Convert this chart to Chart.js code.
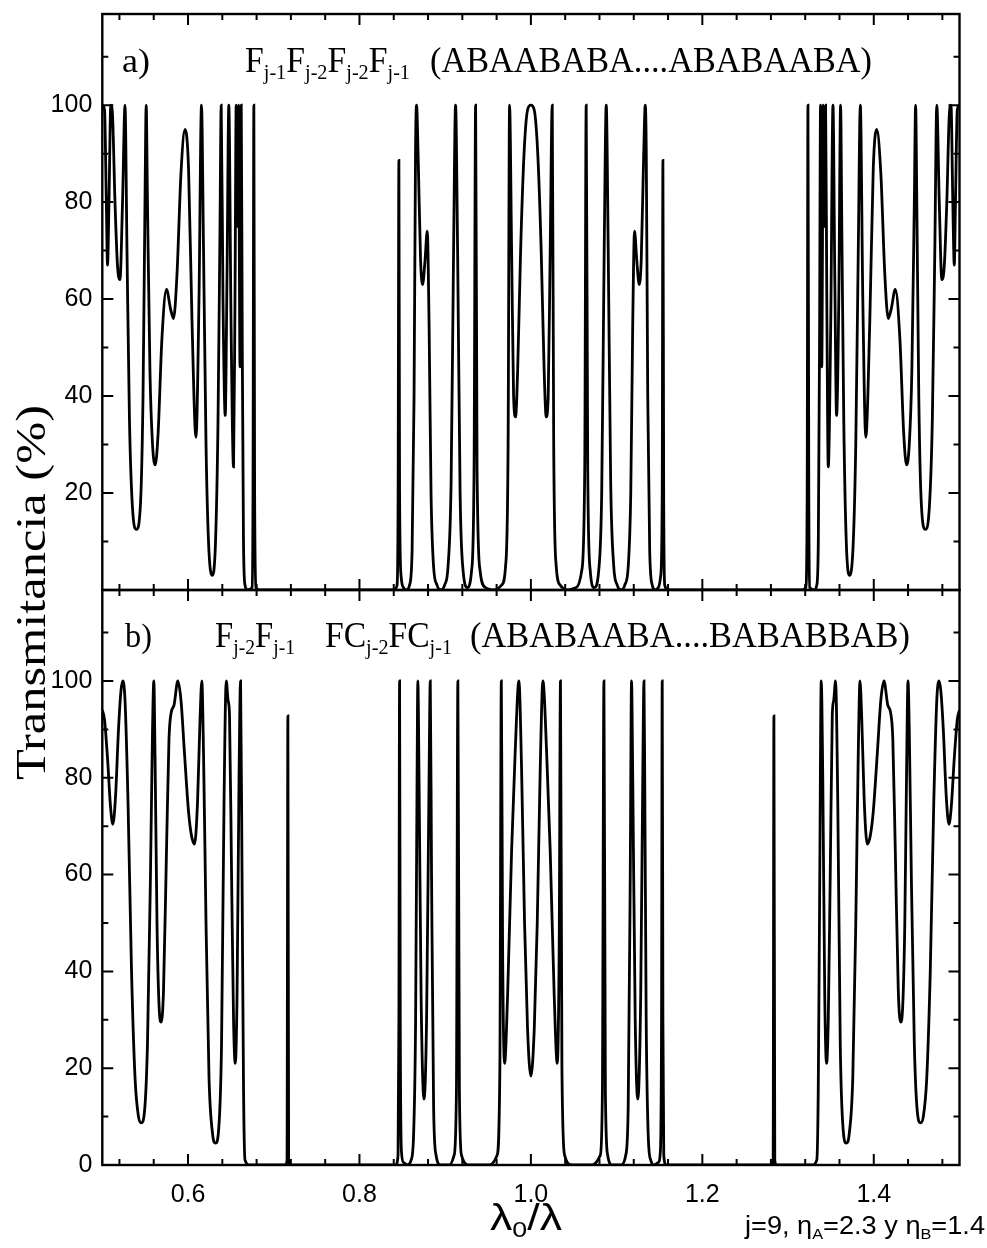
<!DOCTYPE html>
<html>
<head>
<meta charset="utf-8">
<script src="https://cdn.jsdelivr.net/npm/chart.js@4.4.1/dist/chart.umd.min.js"></script>
<style>
  html, body { margin: 0; padding: 0; background: #fff; }
  #wrap { position: relative; width: 987px; height: 1248px; overflow: hidden; }
  canvas { position: absolute; left: 0; }
  #chartA { top: 0; }
  #chartB { top: 586px; }
  .txt { position: absolute; color: #000; white-space: nowrap; line-height: 1; transform-origin: 0 0; }
  .serif { font-family: "Liberation Serif", "Times New Roman", serif; }
  .sans { font-family: "Liberation Sans", Arial, sans-serif; }
  .txt sub { font-size: 60%; vertical-align: -0.32em; line-height: 0; }
</style>
</head>
<body>
<div id="wrap">
  <canvas id="chartA" width="987" height="594"></canvas>
  <canvas id="chartB" width="987" height="662"></canvas>

  <div class="txt serif" id="labA" style="left:122px; top:44px; font-size:34px;">a)</div>
  <div class="txt serif" id="titA1" style="left:245px; top:42px; font-size:36px;">F<sub>j-1</sub>F<sub>j-2</sub>F<sub>j-2</sub>F<sub>j-1</sub></div>
  <div class="txt serif" id="titA2" style="left:430px; top:42px; font-size:36px;">(ABAABABA....ABABAABA)</div>

  <div class="txt serif" id="labB" style="left:125px; top:619px; font-size:34px;">b)</div>
  <div class="txt serif" id="titB1" style="left:215px; top:617px; font-size:36px;">F<sub>j-2</sub>F<sub>j-1</sub></div>
  <div class="txt serif" id="titB2" style="left:325px; top:617px; font-size:36px;">FC<sub>j-2</sub>FC<sub>j-1</sub></div>
  <div class="txt serif" id="titB3" style="left:470px; top:617px; font-size:36px;">(ABABAABA....BABABBAB)</div>

  <div class="txt serif" id="yTitle" style="left:10px; top:780px; font-size:42px;">Transmitancia (%)</div>
  <div class="txt sans" id="xTitle" style="left:490px; top:1199px; font-size:37px;">λ<sub>0</sub>/λ</div>
  <div class="txt sans" id="note" style="left:745px; top:1213px; font-size:25px;">j=9, η<sub>A</sub>=2.3 y η<sub>B</sub>=1.4</div>
</div>

<script>
// Axis ticks
const xTicks = [0.6, 0.8, 1.0, 1.2, 1.4];
const xMinor = [0.52, 0.56, 0.64, 0.68, 0.72, 0.76, 0.84, 0.88, 0.92, 0.96,
                1.04, 1.08, 1.12, 1.16, 1.24, 1.28, 1.32, 1.36, 1.44, 1.48];
const yTicksA = [20, 40, 60, 80, 100];
const yTicksB = [0, 20, 40, 60, 80, 100];
const yMinor = [10, 30, 50, 70, 90, 110];

// a) Fj-1 Fj-2 Fj-2 Fj-1 - lambda0/lambda and transmittance (%)
const lambdaA = [
  0.5000, 0.5026, 0.5047, 0.5061, 0.5078, 0.5099, 0.5119, 0.5148, 0.5177, 0.5206,
  0.5236, 0.5265, 0.5288, 0.5317, 0.5352, 0.5399, 0.5446, 0.5475, 0.5498, 0.5512,
  0.5527, 0.5556, 0.5586, 0.5617, 0.5650, 0.5696, 0.5749, 0.5796, 0.5831, 0.5871,
  0.5918, 0.5965, 0.6006, 0.6047, 0.6093, 0.6128, 0.6157, 0.6181, 0.6210, 0.6239,
  0.6280, 0.6321, 0.6350, 0.6373, 0.6387, 0.6408, 0.6434, 0.6455, 0.6476, 0.6502,
  0.6531, 0.6548, 0.6562, 0.6575, 0.6589, 0.6607, 0.6621, 0.6633, 0.6647, 0.6665,
  0.6694, 0.6747, 0.6758, 0.6768, 0.6777, 0.6793, 0.6834,
  0.8398, 0.8439, 0.8451, 0.8460, 0.8468, 0.8485, 0.8514, 0.8549, 0.8584, 0.8614,
  0.8637, 0.8654, 0.8666, 0.8684, 0.8713, 0.8736, 0.8765, 0.8791, 0.8812, 0.8835,
  0.8864, 0.8905, 0.8946, 0.8993, 0.9034, 0.9069, 0.9098, 0.9121, 0.9145, 0.9174,
  0.9209, 0.9261, 0.9308, 0.9337, 0.9355, 0.9372, 0.9407, 0.9471, 0.9576, 0.9658,
  0.9705, 0.9734, 0.9751, 0.9775, 0.9798, 0.9821, 0.9845, 0.9880, 0.9920, 0.9961,
  1.0000,
  1.0039, 1.0080, 1.0120, 1.0155, 1.0179, 1.0202, 1.0225, 1.0249, 1.0266, 1.0295,
  1.0342, 1.0424, 1.0529, 1.0593, 1.0628, 1.0645, 1.0663, 1.0692, 1.0739, 1.0791,
  1.0826, 1.0855, 1.0879, 1.0902, 1.0931, 1.0966, 1.1007, 1.1054, 1.1095, 1.1136,
  1.1165, 1.1188, 1.1209, 1.1235, 1.1264, 1.1287, 1.1316, 1.1334, 1.1346, 1.1363,
  1.1386, 1.1416, 1.1451, 1.1486, 1.1515, 1.1532, 1.1540, 1.1549, 1.1561, 1.1602,
  1.3166, 1.3207, 1.3223, 1.3232, 1.3242, 1.3253, 1.3306, 1.3335, 1.3353, 1.3367,
  1.3379, 1.3393, 1.3411, 1.3425, 1.3438, 1.3452, 1.3469, 1.3498, 1.3524, 1.3545,
  1.3566, 1.3592, 1.3613, 1.3627, 1.3650, 1.3679, 1.3720, 1.3761, 1.3790, 1.3819,
  1.3843, 1.3872, 1.3907, 1.3953, 1.3994, 1.4035, 1.4082, 1.4129, 1.4169, 1.4204,
  1.4251, 1.4304, 1.4350, 1.4383, 1.4414, 1.4444, 1.4473, 1.4488, 1.4502, 1.4525,
  1.4554, 1.4601, 1.4648, 1.4683, 1.4712, 1.4735, 1.4764, 1.4794, 1.4823, 1.4852,
  1.4881, 1.4901, 1.4922, 1.4939, 1.4953, 1.4974, 1.5000
];
const transA = [
  100, 99, 80, 67, 80, 100, 98, 80, 67, 64,
  80, 100, 70, 35, 17, 12.5, 18, 40, 80, 100,
  80, 45, 30, 25.8, 32, 52, 62, 58, 56, 65,
  86, 95, 87, 55, 31.5, 60, 100, 70, 30, 10,
  3, 10, 35, 75, 100, 60, 36, 65, 100, 55,
  25.4, 60, 100, 75, 100, 46, 100, 50, 10, 1,
  0, 0.5, 20, 100, 20, 0.5, 0,
  0, 1, 20, 88.6, 20, 3, 0.5, 0, 1, 8,
  40, 90, 100, 90, 68, 63, 68, 74, 55, 20,
  5, 1, 0, 1, 5, 22, 70, 100, 70, 20,
  4, 0.5, 4, 25, 100, 25, 4, 0.5, 0, 1,
  5, 30, 100, 70, 40, 35.7, 45, 70, 90, 99,
  100,
  99, 90, 70, 45, 35.7, 40, 70, 100, 30, 5,
  1, 0, 0.5, 4, 25, 100, 25, 4, 0.5, 4,
  20, 70, 100, 70, 22, 5, 1, 0, 1, 5,
  20, 55, 74, 68, 63, 68, 90, 100, 90, 40,
  8, 1, 0, 0.5, 3, 20, 88.6, 20, 1, 0,
  0, 0.5, 20, 100, 20, 0.5, 0, 1, 10, 50,
  100, 46, 100, 75, 100, 60, 25.4, 55, 100, 65,
  36, 60, 100, 75, 35, 10, 3, 10, 30, 70,
  100, 60, 31.5, 55, 87, 95, 86, 65, 56, 58,
  62, 52, 32, 25.8, 30, 45, 80, 100, 80, 40,
  18, 12.5, 17, 35, 70, 100, 80, 64, 67, 80,
  98, 100, 80, 67, 80, 99, 100
];

// b) Fj-2 Fj-1 FCj-2 FCj-1
const lambdaB = [
  0.5000, 0.5026, 0.5061, 0.5096, 0.5123, 0.5154, 0.5189, 0.5218, 0.5239, 0.5265,
  0.5300, 0.5341, 0.5382, 0.5422, 0.5454, 0.5492, 0.5527, 0.5562, 0.5586, 0.5601,
  0.5615, 0.5638, 0.5662, 0.5687, 0.5714, 0.5749, 0.5778, 0.5804, 0.5837, 0.5881,
  0.5918, 0.5959, 0.6006, 0.6041, 0.6076, 0.6111, 0.6140, 0.6161, 0.6181, 0.6210,
  0.6245, 0.6286, 0.6321, 0.6356, 0.6391, 0.6420, 0.6446, 0.6467, 0.6484, 0.6508,
  0.6531, 0.6551, 0.6572, 0.6595, 0.6613, 0.6630, 0.6648, 0.6665, 0.6718,
  0.7138, 0.7155, 0.7165, 0.7174, 0.7190,
  0.8421, 0.8450, 0.8460, 0.8468, 0.8476, 0.8489, 0.8515, 0.8561, 0.8602, 0.8631,
  0.8655, 0.8672, 0.8681, 0.8695, 0.8719, 0.8753, 0.8783, 0.8812, 0.8826, 0.8841,
  0.8865, 0.8894, 0.8946, 0.9051, 0.9104, 0.9131, 0.9148, 0.9166, 0.9191, 0.9285,
  0.9518, 0.9606, 0.9638, 0.9655, 0.9670, 0.9693, 0.9728, 0.9775, 0.9816, 0.9860,
  0.9891, 0.9926, 0.9961, 1.0000,
  1.0039, 1.0074, 1.0109, 1.0140, 1.0184, 1.0225, 1.0272, 1.0307, 1.0330, 1.0345,
  1.0362, 1.0394, 1.0482, 1.0715, 1.0809, 1.0834, 1.0852, 1.0869, 1.0896, 1.0949,
  1.1054, 1.1106, 1.1135, 1.1159, 1.1174, 1.1188, 1.1217, 1.1247, 1.1281, 1.1305,
  1.1319, 1.1328, 1.1345, 1.1369, 1.1398, 1.1439, 1.1485, 1.1511, 1.1524, 1.1532,
  1.1540, 1.1550, 1.1579,
  1.2810, 1.2826, 1.2835, 1.2845, 1.2862,
  1.3282, 1.3335, 1.3352, 1.3370, 1.3387, 1.3405, 1.3428, 1.3449, 1.3469, 1.3492,
  1.3516, 1.3533, 1.3554, 1.3580, 1.3609, 1.3644, 1.3679, 1.3714, 1.3755, 1.3790,
  1.3819, 1.3839, 1.3860, 1.3889, 1.3924, 1.3959, 1.3994, 1.4041, 1.4082, 1.4119,
  1.4163, 1.4196, 1.4222, 1.4251, 1.4286, 1.4313, 1.4338, 1.4362, 1.4385, 1.4399,
  1.4414, 1.4438, 1.4473, 1.4508, 1.4546, 1.4578, 1.4618, 1.4659, 1.4700, 1.4735,
  1.4761, 1.4782, 1.4811, 1.4846, 1.4877, 1.4904, 1.4939, 1.4974, 1.5000
];
const transB = [
  94, 92, 84, 74, 70.4, 76, 90, 98, 100, 96,
  75, 40, 18, 10, 8.7, 11, 25, 60, 90, 100,
  85, 50, 33, 29.5, 36, 65, 88, 93.5, 95, 100,
  96, 85, 73, 68, 66.3, 75, 92, 100, 85, 50,
  18, 6.5, 4.5, 7, 25, 75, 100, 96, 93, 60,
  30, 21, 35, 80, 100, 60, 15, 1, 0,
  0, 1, 92.8, 1, 0,
  0, 2, 30, 100, 30, 3, 0.5, 0, 1, 6,
  30, 80, 100, 80, 35, 13.6, 30, 80, 100, 60,
  12, 2, 0, 0, 2, 15, 100, 15, 2, 0,
  0, 2, 20, 100, 45, 21, 35, 65, 85, 100,
  82, 50, 28, 18.4,
  28, 50, 82, 100, 85, 65, 35, 21, 45, 100,
  20, 2, 0, 0, 2, 15, 100, 15, 2, 0,
  0, 2, 12, 60, 100, 80, 30, 13.6, 35, 80,
  100, 80, 30, 6, 1, 0, 0.5, 3, 30, 100,
  30, 2, 0,
  0, 1, 92.8, 1, 0,
  0, 1, 15, 60, 100, 80, 35, 21, 30, 60,
  93, 96, 100, 75, 25, 7, 4.5, 6.5, 18, 50,
  85, 100, 92, 75, 66.3, 68, 73, 85, 96, 100,
  95, 93.5, 88, 65, 36, 29.5, 33, 50, 85, 100,
  90, 60, 25, 11, 8.7, 10, 18, 40, 75, 96,
  100, 98, 90, 76, 70.4, 74, 84, 92, 94
];

// frame with inward ticks on all four sides
const framePlugin = {
  id: 'frame',
  afterDatasetsDraw(chart) {
    const { ctx, chartArea: a, scales: { x, y } } = chart;
    const majY = chart.options.plugins.frame.yMajor;
    const tick = (px, py, dx, dy) => { ctx.moveTo(px, py); ctx.lineTo(px + dx, py + dy); };
    ctx.save();
    ctx.strokeStyle = '#000';
    ctx.lineWidth = 2;
    ctx.beginPath();
    xTicks.forEach(v => {
      const p = x.getPixelForValue(v);
      tick(p, a.bottom, 0, -11); tick(p, a.top, 0, 11);
    });
    xMinor.forEach(v => {
      const p = x.getPixelForValue(v);
      tick(p, a.bottom, 0, -6); tick(p, a.top, 0, 6);
    });
    majY.forEach(v => {
      const p = y.getPixelForValue(v);
      tick(a.left, p, 11, 0); tick(a.right, p, -11, 0);
    });
    yMinor.forEach(v => {
      const p = y.getPixelForValue(v);
      tick(a.left, p, 6, 0); tick(a.right, p, -6, 0);
    });
    ctx.stroke();
    ctx.lineWidth = 2.4;
    ctx.strokeRect(a.left, a.top, a.right - a.left, a.bottom - a.top);
    ctx.restore();
  }
};

const noPad = s => { s.paddingTop = 0; s.paddingBottom = 0; s.paddingLeft = 0; s.paddingRight = 0; };

function makeChart(id, xs, ys, yTicks, pad, showX) {
  return new Chart(document.getElementById(id), {
    type: 'line',
    data: {
      datasets: [{
        data: xs.map((v, i) => ({ x: v, y: ys[i] })),
        borderColor: '#000',
        borderWidth: 2.8,
        pointRadius: 0,
        fill: false,
        cubicInterpolationMode: 'monotone'
      }]
    },
    options: {
      responsive: false,
      animation: false,
      events: [],
      layout: { padding: pad },
      plugins: {
        legend: { display: false },
        tooltip: { enabled: false },
        frame: { yMajor: yTicks }
      },
      scales: {
        x: {
          type: 'linear', min: 0.5, max: 1.5,
          display: showX,
          afterBuildTicks: s => { s.ticks = xTicks.map(v => ({ value: v })); },
          afterFit: s => { s.height = showX ? 83 : 0; noPad(s); },
          grid: { display: false, drawTicks: false },
          border: { display: false },
          ticks: {
            color: '#000', padding: 15,
            font: { family: 'Liberation Sans', size: 25 },
            callback: v => v.toFixed(1)
          }
        },
        y: {
          type: 'linear', min: 0, max: 118.8,
          afterBuildTicks: s => { s.ticks = yTicks.map(v => ({ value: v })); },
          afterFit: s => { s.width = 102.3; noPad(s); },
          grid: { display: false, drawTicks: false },
          border: { display: false },
          ticks: {
            color: '#000', padding: 10,
            font: { family: 'Liberation Sans', size: 25 }
          }
        }
      }
    },
    plugins: [framePlugin]
  });
}

makeChart('chartA', lambdaA, transA, yTicksA, { top: 14, right: 27.5, bottom: 4, left: 0 }, false);
makeChart('chartB', lambdaB, transB, yTicksB, { top: 4, right: 27.5, bottom: 0, left: 0 }, true);

// stretch/compress the text blocks to the widths seen in the figure
function fit(id, width) {
  const el = document.getElementById(id);
  const w = el.getBoundingClientRect().width;
  el.style.transform = 'scaleX(' + (width / w) + ')';
}
function fitRotated(id, length) {
  const el = document.getElementById(id);
  const w = el.getBoundingClientRect().width;
  el.style.transform = 'rotate(-90deg) scaleX(' + (length / w) + ')';
}
fit('labA', 28);
fit('titA1', 165);
fit('titA2', 442);
fit('labB', 27);
fit('titB1', 80);
fit('titB2', 127);
fit('titB3', 440);
fit('note', 240);
fit('xTitle', 72);
fitRotated('yTitle', 375);
</script>
</body>
</html>
